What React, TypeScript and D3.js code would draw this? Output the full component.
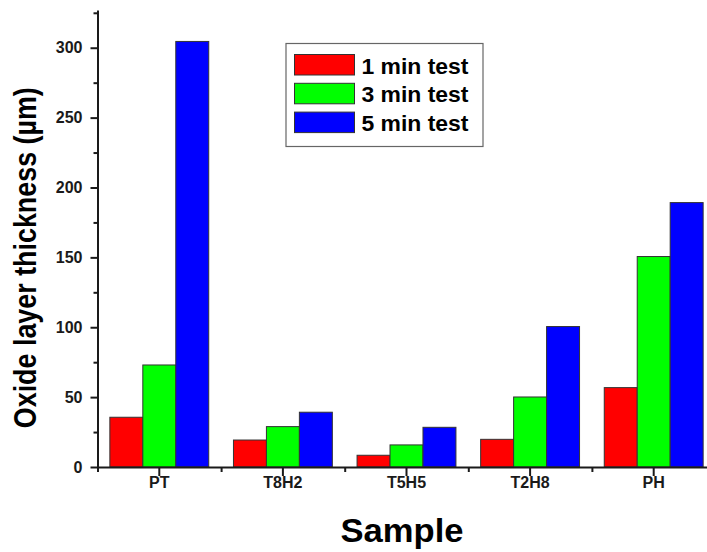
import { useEffect, useRef } from 'react';
import * as d3 from 'd3';

const categories = ["PT", "T8H2", "T5H5", "T2H8", "PH"];
const seriesNames = ["1 min test", "3 min test", "5 min test"];
const seriesColors = ["#ff0000", "#00ff00", "#0000ff"];
const oneMin = [35.6, 19.3, 8.4, 19.8, 56.8];
const threeMin = [73, 28.9, 15.8, 50.1, 150.6];
const fiveMin = [304.5, 39.2, 28.4, 100.5, 189.2];
const majorTicks = [0, 50, 100, 150, 200, 250, 300];
const minorTicks = [25, 75, 125, 175, 225, 275, 325];

const FONT = "'Liberation Sans', Arial, sans-serif";

export default function App() {
  const svgRef = useRef<SVGSVGElement>(null);

  useEffect(() => {
    if (!svgRef.current) return;
    const svg = d3.select(svgRef.current);
    svg.selectAll("*").remove();

    const left = 97.5, right = 715.5, bottom = 467, top = 10;
    const series = [oneMin, threeMin, fiveMin];

    const x = d3.scaleBand<string>().domain(categories).range([left, right]).paddingInner(0).paddingOuter(0);
    const xSub = d3.scaleBand<number>().domain([0, 1, 2])
      .range([x.bandwidth() * 0.1, x.bandwidth() * 0.9]);
    const xEdges = d3.scaleLinear().domain([0, categories.length]).range([left, right]);
    const y = d3.scaleLinear().domain([0, 327]).range([bottom, top]);

    // bars
    const groups = svg.append("g")
      .selectAll("g")
      .data(categories)
      .enter().append("g")
      .attr("transform", d => `translate(${x(d)},0)`);

    groups.selectAll("rect")
      .data((_, i) => series.map((s, k) => ({ k, v: s[i] })))
      .enter().append("rect")
      .attr("x", d => xSub(d.k)!)
      .attr("y", d => y(d.v))
      .attr("width", xSub.bandwidth())
      .attr("height", d => bottom - y(d.v))
      .attr("fill", d => seriesColors[d.k])
      .attr("stroke", "#333")
      .attr("stroke-width", 1);

    const axisColor = "#1a1a1a";

    // y axis
    const yAxis = svg.append("g")
      .attr("transform", `translate(${left},0)`)
      .call(d3.axisLeft(y).tickValues(majorTicks).tickSize(7).tickSizeOuter(0).tickPadding(8) as any);
    svg.append("g")
      .attr("transform", `translate(${left},0)`)
      .call(d3.axisLeft(y).tickValues(minorTicks).tickSize(4).tickSizeOuter(0).tickFormat(() => "") as any)
      .select(".domain").remove();

    // x axis
    const xAxis = svg.append("g")
      .attr("transform", `translate(0,${bottom})`)
      .call(d3.axisBottom(x).tickSize(9).tickSizeOuter(0).tickPadding(1) as any);
    svg.append("g")
      .attr("transform", `translate(0,${bottom})`)
      .call(d3.axisBottom(xEdges).tickValues(d3.range(categories.length + 1)).tickSize(5).tickFormat(() => "") as any)
      .select(".domain").remove();

    svg.selectAll(".domain").attr("stroke", axisColor).attr("stroke-width", 2);
    svg.selectAll(".tick line").attr("stroke", axisColor).attr("stroke-width", 2);
    [yAxis, xAxis].forEach(a => a.selectAll("text")
      .attr("font-family", FONT)
      .attr("font-size", 16)
      .attr("font-weight", "bold")
      .attr("fill", "#1a1a1a"));

    // axis titles
    svg.append("text")
      .attr("transform", `translate(36,257.7) rotate(-90)`)
      .attr("text-anchor", "middle")
      .attr("font-family", FONT)
      .attr("font-size", 31)
      .attr("font-weight", "bold")
      .attr("textLength", 341)
      .attr("lengthAdjust", "spacingAndGlyphs")
      .text("Oxide layer thickness (\u00b5m)");

    svg.append("text")
      .attr("x", 402)
      .attr("y", 541.7)
      .attr("text-anchor", "middle")
      .attr("font-family", FONT)
      .attr("font-size", 33)
      .attr("font-weight", "bold")
      .attr("textLength", 123)
      .attr("lengthAdjust", "spacingAndGlyphs")
      .text("Sample");

    // legend
    const legend = svg.append("g");
    legend.append("rect")
      .attr("x", 286).attr("y", 43.5)
      .attr("width", 197).attr("height", 103)
      .attr("fill", "#fff")
      .attr("stroke", "#666")
      .attr("stroke-width", 1.2);

    const rows = legend.selectAll("g.row")
      .data(seriesNames)
      .enter().append("g")
      .attr("class", "row")
      .attr("transform", (_, i) => `translate(0,${i * 28.8})`);
    rows.append("rect")
      .attr("x", 294.5).attr("y", 54.5)
      .attr("width", 60).attr("height", 20.5)
      .attr("fill", (_, i) => seriesColors[i])
      .attr("stroke", "#333")
      .attr("stroke-width", 1);
    rows.append("text")
      .attr("x", 361.5).attr("y", 73.5)
      .attr("font-family", FONT)
      .attr("font-size", 22)
      .attr("font-weight", "bold")
      .attr("textLength", 107)
      .attr("lengthAdjust", "spacingAndGlyphs")
      .text(d => d);
  }, []);

  return (
    <svg
      ref={svgRef}
      width={707}
      height={552}
      style={{ position: 'absolute', left: 0, top: 0, background: '#fff' }}
    />
  );
}
